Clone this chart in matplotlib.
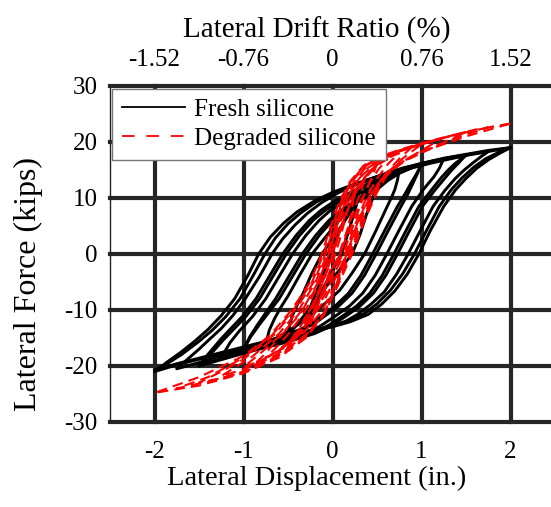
import matplotlib
matplotlib.use("Agg")
import matplotlib.pyplot as plt
from matplotlib.lines import Line2D

plt.rcParams['font.family'] = ['Liberation Serif', 'DejaVu Serif']
plt.rcParams['axes.unicode_minus'] = False

# ---------------- data ----------------
x_ticks = [-2, -1, 0, 1, 2]
drift_labels = ["-1.52", "-0.76", "0", "0.76", "1.52"]
y_ticks = [-30, -20, -10, 0, 10, 20, 30]

# Fresh silicone loops: unloading branch (+A -> -A) followed by reloading branch (-A -> +A)
fresh_disp_1 = [2.0, 1.75, 1.5, 1.25, 1.0, 0.75, 0.5, 0.25, 0.0, -0.2, -0.4, -0.55, -0.7, -0.83, -0.95, -1.1, -1.25, -1.4, -1.55, -1.7, -1.85, -2.0,
                -1.75, -1.5, -1.25, -1.0, -0.75, -0.5, -0.25, 0.0, 0.2, 0.4, 0.55, 0.7, 0.84, 0.97, 1.1, 1.25, 1.38, 1.5, 1.62, 1.75, 1.88, 2.0]
fresh_force_1 = [19.0, 18.5, 17.8, 17.1, 16.2, 15.1, 13.8, 12.5, 11.0, 9.5, 7.5, 5.5, 3.0, 0.0, -3.8, -8.0, -11.0, -13.5, -15.6, -17.5, -19.2, -21.0,
                 -19.8, -18.8, -17.8, -16.8, -15.8, -14.8, -13.9, -13.0, -12.1, -10.8, -9.0, -6.6, -3.6, 0.0, 4.2, 8.5, 11.4, 13.5, 15.3, 16.8, 18.0, 19.0]
fresh_disp_2 = [2.0, 1.75, 1.5, 1.25, 1.0, 0.75, 0.5, 0.25, 0.0, -0.18, -0.36, -0.5, -0.64, -0.76, -0.89, -1.04, -1.2, -1.35, -1.5, -1.7, -1.85, -2.0,
                -1.75, -1.5, -1.25, -1.0, -0.75, -0.5, -0.25, 0.0, 0.18, 0.36, 0.5, 0.65, 0.79, 0.92, 1.06, 1.2, 1.33, 1.45, 1.58, 1.72, 1.86, 2.0]
fresh_force_2 = [19.0, 18.3, 17.6, 16.9, 16.0, 14.9, 13.6, 12.3, 10.8, 9.3, 7.3, 5.4, 2.9, 0.0, -3.8, -8.0, -11.2, -13.6, -15.6, -18.0, -19.5, -20.8,
                 -19.6, -18.6, -17.6, -16.6, -15.6, -14.6, -13.7, -12.8, -11.9, -10.6, -8.9, -6.5, -3.5, 0.0, 4.3, 8.5, 11.4, 13.5, 15.4, 17.0, 18.1, 19.0]
fresh_disp_3 = [1.75, 1.5, 1.3, 1.05, 0.8, 0.6, 0.4, 0.2, 0.05, -0.12, -0.28, -0.42, -0.56, -0.68, -0.82, -0.98, -1.12, -1.25, -1.38, -1.5, -1.63, -1.75,
                -1.5, -1.3, -1.05, -0.8, -0.55, -0.35, -0.15, 0.0, 0.15, 0.28, 0.43, 0.58, 0.72, 0.85, 0.99, 1.13, 1.26, 1.38, 1.48, 1.58, 1.67, 1.75]
fresh_force_3 = [18.3, 17.7, 17.2, 16.3, 15.4, 14.4, 13.3, 12.0, 10.8, 9.2, 7.3, 5.2, 2.7, 0.0, -4.0, -8.0, -11.0, -13.3, -15.2, -17.0, -18.8, -20.5,
                 -19.4, -18.4, -17.4, -16.4, -15.4, -14.5, -13.6, -12.9, -12.0, -10.8, -9.0, -6.8, -3.6, 0.0, 4.3, 8.5, 11.3, 13.5, 15.0, 16.3, 17.4, 18.3]
fresh_disp_4 = [1.5, 1.3, 1.1, 0.9, 0.7, 0.47, 0.24, 0.12, 0.0, -0.13, -0.26, -0.41, -0.56, -0.71, -0.86, -1.01, -1.16, -1.26, -1.35, -1.43, -1.5,
                -1.3, -1.1, -0.85, -0.6, -0.4, -0.2, -0.02, 0.16, 0.31, 0.46, 0.6, 0.73, 0.87, 1.01, 1.14, 1.26, 1.34, 1.42, 1.5]
fresh_force_4 = [17.7, 17.1, 16.4, 15.6, 14.6, 13.1, 11.3, 10.3, 9.2, 7.8, 6.0, 3.3, 0.0, -4.0, -8.0, -11.1, -13.6, -15.3, -17.0, -18.5, -20.0,
                 -19.1, -18.2, -17.1, -16.1, -15.2, -14.2, -12.9, -11.0, -9.3, -7.0, -3.8, 0.0, 4.3, 8.5, 11.2, 13.5, 15.0, 16.3, 17.7]
fresh_disp_5 = [1.5, 1.3, 1.1, 0.9, 0.7, 0.48, 0.27, 0.15, 0.04, -0.09, -0.22, -0.37, -0.52, -0.67, -0.82, -0.97, -1.12, -1.23, -1.33, -1.42, -1.5,
                -1.3, -1.1, -0.85, -0.6, -0.4, -0.2, -0.04, 0.12, 0.27, 0.42, 0.56, 0.69, 0.83, 0.97, 1.1, 1.22, 1.3, 1.38, 1.5]
fresh_force_5 = [17.6, 16.9, 16.2, 15.4, 14.4, 12.9, 11.2, 10.2, 9.0, 7.7, 6.0, 3.3, 0.0, -4.0, -8.0, -11.1, -13.6, -15.4, -17.2, -18.5, -19.8,
                 -18.9, -18.0, -16.9, -15.9, -15.0, -14.0, -12.7, -11.0, -9.3, -7.0, -3.8, 0.0, 4.3, 8.5, 11.2, 13.6, 15.0, 16.2, 17.6]
fresh_disp_6 = [1.25, 1.1, 0.95, 0.8, 0.65, 0.5, 0.35, 0.22, 0.1, -0.03, -0.15, -0.3, -0.45, -0.6, -0.75, -0.9, -1.05, -1.15, -1.25,
                -1.1, -0.9, -0.68, -0.45, -0.28, -0.15, 0.04, 0.19, 0.34, 0.48, 0.61, 0.75, 0.89, 1.02, 1.14, 1.2, 1.25]
fresh_force_6 = [17.0, 16.5, 15.8, 15.0, 14.0, 12.8, 11.2, 10.2, 9.0, 7.7, 6.0, 3.3, 0.0, -4.0, -8.0, -11.2, -13.8, -15.8, -18.5,
                 -17.5, -16.6, -15.6, -14.6, -13.8, -13.0, -11.0, -9.3, -7.0, -3.8, 0.0, 4.3, 8.5, 11.5, 13.8, 15.3, 17.0]
fresh_disp_7 = [1.0, 0.88, 0.75, 0.6, 0.46, 0.33, 0.21, 0.08, -0.04, -0.19, -0.34, -0.49, -0.64, -0.75, -0.85, -0.93, -1.0,
                -0.85, -0.7, -0.52, -0.35, -0.2, -0.08, 0.07, 0.22, 0.36, 0.49, 0.63, 0.77, 0.84, 0.9, 0.95, 1.0]
fresh_force_7 = [16.2, 15.5, 14.6, 13.2, 11.5, 10.3, 9.0, 7.6, 6.0, 3.3, 0.0, -4.0, -8.0, -10.5, -12.8, -14.8, -17.2,
                 -16.4, -15.6, -14.6, -13.6, -12.4, -11.0, -9.3, -7.0, -3.8, 0.0, 4.3, 8.5, 10.5, 12.5, 14.2, 16.2]
fresh_disp_8 = [1.0, 0.88, 0.75, 0.62, 0.5, 0.37, 0.25, 0.12, 0.0, -0.15, -0.3, -0.45, -0.6, -0.72, -0.83, -0.92, -1.0,
                -0.85, -0.7, -0.52, -0.35, -0.22, -0.12, 0.03, 0.18, 0.32, 0.45, 0.59, 0.73, 0.81, 0.88, 0.94, 1.0]
fresh_force_8 = [16.0, 15.3, 14.4, 13.1, 11.5, 10.2, 9.0, 7.6, 6.0, 3.3, 0.0, -4.0, -8.0, -10.5, -12.8, -14.8, -17.0,
                 -16.2, -15.4, -14.4, -13.4, -12.2, -11.0, -9.3, -7.0, -3.8, 0.0, 4.3, 8.5, 10.6, 12.6, 14.2, 16.0]
fresh_disp_9 = [0.75, 0.65, 0.55, 0.45, 0.35, 0.22, 0.1, -0.06, -0.23, -0.37, -0.5, -0.58, -0.65, -0.71, -0.75,
                -0.63, -0.5, -0.35, -0.2, -0.06, 0.08, 0.22, 0.36, 0.48, 0.6, 0.66, 0.7, 0.73, 0.75]
fresh_force_9 = [15.0, 13.9, 12.8, 11.6, 10.3, 8.5, 6.5, 3.4, 0.0, -3.8, -7.5, -9.5, -11.5, -13.6, -16.0,
                 -15.0, -13.8, -12.2, -10.3, -8.5, -6.5, -3.4, 0.0, 3.9, 8.0, 10.0, 11.5, 13.2, 15.0]
fresh_disp_10 = [0.5, 0.43, 0.35, 0.25, 0.15, 0.02, -0.12, -0.23, -0.33, -0.4, -0.45, -0.48, -0.5,
                 -0.42, -0.32, -0.2, -0.08, 0.07, 0.22, 0.31, 0.38, 0.43, 0.47, 0.49, 0.5]
fresh_force_10 = [13.5, 12.3, 10.8, 8.7, 6.2, 3.1, 0.0, -3.4, -7.0, -9.2, -11.0, -12.6, -14.5,
                  -13.0, -11.0, -8.6, -6.0, -3.0, 0.0, 3.5, 7.0, 9.0, 10.8, 12.1, 13.5]
fresh_disp_11 = [0.3, 0.18, 0.05, -0.02, -0.15, -0.25, -0.3,
                 -0.18, -0.02, 0.1, 0.2, 0.27, 0.3]
fresh_force_11 = [11.5, 7.5, 3.0, 0.0, -5.5, -9.5, -12.5,
                  -8.5, -3.5, 0.0, 5.0, 8.8, 11.5]

# Degraded silicone loops
degr_disp_1 = [2.0, 1.6, 1.3, 1.0, 0.75, 0.5, 0.35, 0.2, 0.08, -0.02, -0.12, -0.25, -0.46, -0.7, -1.0, -1.5, -2.0,
               -1.5, -1.0, -0.6, -0.3, -0.1, 0.05, 0.22, 0.36, 0.5, 0.6, 0.75, 1.0, 1.5, 2.0]
degr_force_1 = [23.3, 22.2, 21.0, 19.8, 18.6, 17.2, 15.8, 13.0, 9.5, 5.0, 0.0, -5.0, -10.0, -14.5, -18.2, -22.0, -24.8,
                -23.5, -21.3, -18.5, -15.0, -11.0, -6.0, 0.0, 6.0, 11.0, 13.8, 16.2, 18.2, 21.0, 23.3]
degr_disp_2 = [1.75, 1.3, 1.0, 0.75, 0.5, 0.35, 0.2, 0.1, 0.0, -0.1, -0.23, -0.44, -0.68, -1.0, -1.4, -1.75,
               -1.4, -1.0, -0.6, -0.3, -0.1, 0.04, 0.2, 0.34, 0.48, 0.6, 0.75, 1.0, 1.4, 1.75]
degr_force_2 = [22.6, 21.0, 19.7, 18.5, 17.1, 15.6, 12.8, 9.5, 5.0, 0.0, -5.0, -10.0, -14.5, -18.5, -22.0, -24.0,
                -22.8, -21.0, -18.2, -14.8, -10.8, -6.0, 0.0, 6.0, 11.0, 14.0, 16.3, 18.3, 20.8, 22.6]
degr_disp_3 = [1.5, 1.2, 0.9, 0.6, 0.38, 0.22, 0.11, 0.02, -0.08, -0.21, -0.42, -0.66, -1.0, -1.25, -1.5,
               -1.2, -0.9, -0.6, -0.3, -0.1, 0.04, 0.19, 0.33, 0.47, 0.6, 0.8, 1.1, 1.5]
degr_force_3 = [21.8, 20.5, 19.1, 17.6, 15.8, 13.0, 9.5, 5.0, 0.0, -5.0, -10.0, -14.5, -18.8, -21.0, -23.0,
                -22.0, -20.5, -18.0, -14.6, -10.6, -6.0, 0.0, 6.0, 11.0, 14.0, 16.5, 18.8, 21.8]
degr_disp_4 = [1.25, 1.0, 0.75, 0.5, 0.36, 0.23, 0.12, 0.04, -0.06, -0.19, -0.38, -0.6, -0.9, -1.25,
               -1.0, -0.7, -0.45, -0.25, -0.08, 0.04, 0.17, 0.31, 0.45, 0.6, 0.8, 1.0, 1.25]
degr_force_4 = [20.8, 19.6, 18.3, 16.7, 15.2, 12.6, 9.3, 5.0, 0.0, -5.0, -10.0, -14.2, -18.3, -21.8,
                -20.6, -18.6, -16.2, -13.8, -10.2, -5.5, 0.0, 6.0, 10.8, 14.0, 16.6, 18.5, 20.8]
degr_disp_5 = [1.0, 0.8, 0.6, 0.4, 0.25, 0.14, 0.05, -0.04, -0.16, -0.34, -0.55, -0.8, -1.0,
               -0.8, -0.55, -0.32, -0.12, 0.03, 0.16, 0.29, 0.42, 0.58, 0.8, 1.0]
degr_force_5 = [19.6, 18.6, 17.3, 15.4, 12.5, 9.2, 5.0, 0.0, -5.0, -10.0, -14.0, -17.6, -20.2,
                -19.0, -16.8, -14.0, -10.2, -5.5, 0.0, 6.0, 10.5, 14.0, 17.2, 19.6]
degr_disp_6 = [0.75, 0.6, 0.45, 0.3, 0.16, 0.06, -0.02, -0.14, -0.3, -0.48, -0.62, -0.75,
               -0.6, -0.42, -0.22, -0.06, 0.05, 0.14, 0.26, 0.38, 0.5, 0.63, 0.75]
degr_force_6 = [18.0, 17.0, 15.4, 12.5, 8.8, 4.5, 0.0, -5.0, -10.0, -14.0, -16.5, -18.5,
                -17.2, -14.8, -11.2, -6.5, -2.5, 0.0, 5.5, 10.0, 13.5, 16.2, 18.0]
degr_disp_7 = [0.5, 0.38, 0.26, 0.15, 0.06, 0.0, -0.1, -0.24, -0.38, -0.5,
               -0.36, -0.22, -0.08, 0.04, 0.12, 0.22, 0.32, 0.42, 0.5]
degr_force_7 = [16.0, 14.2, 11.0, 7.2, 3.2, 0.0, -4.5, -9.5, -13.5, -16.5,
                -14.2, -10.8, -6.2, -2.2, 0.0, 4.5, 9.0, 13.0, 16.0]
degr_disp_8 = [0.25, 0.16, 0.08, 0.03, -0.06, -0.16, -0.25,
               -0.14, -0.02, 0.09, 0.16, 0.22, 0.25]
degr_force_8 = [11.5, 7.2, 2.5, 0.0, -4.5, -9.0, -12.5,
                -7.8, -3.0, 0.0, 3.8, 8.0, 11.5]
degr_disp_9 = [0.9, 0.7, 0.5, 0.33, 0.2, 0.1, 0.02, -0.08, -0.2, -0.38, -0.6, -0.78, -0.9,
               -0.7, -0.48, -0.27, -0.09, 0.05, 0.17, 0.3, 0.44, 0.6, 0.75, 0.9]
degr_force_9 = [19.2, 18.0, 16.4, 14.0, 11.0, 7.5, 3.5, -1.5, -6.5, -11.0, -15.0, -18.2, -20.0,
                -18.2, -15.6, -12.4, -8.2, -3.8, 0.5, 6.2, 10.8, 14.4, 17.0, 19.2]
degr_disp_10 = [0.62, 0.5, 0.37, 0.24, 0.12, 0.04, -0.05, -0.17, -0.32, -0.48, -0.62,
                -0.5, -0.34, -0.17, -0.03, 0.07, 0.18, 0.3, 0.42, 0.52, 0.62]
degr_force_10 = [17.0, 15.8, 13.6, 10.2, 6.0, 2.0, -2.5, -7.5, -12.0, -15.6, -17.5,
                 -16.0, -13.0, -9.0, -4.5, -0.5, 4.0, 8.8, 12.8, 15.2, 17.0]
degr_disp_11 = [0.38, 0.28, 0.18, 0.09, 0.02, -0.07, -0.18, -0.3, -0.38,
                -0.26, -0.13, -0.02, 0.08, 0.17, 0.27, 0.38]
degr_force_11 = [14.0, 11.6, 8.2, 4.2, 0.8, -3.5, -8.2, -12.2, -14.5,
                 -11.8, -7.8, -3.8, 0.3, 4.5, 9.0, 14.0]

fresh_loops = [(fresh_disp_1, fresh_force_1), (fresh_disp_2, fresh_force_2),
               (fresh_disp_3, fresh_force_3), (fresh_disp_4, fresh_force_4),
               (fresh_disp_5, fresh_force_5), (fresh_disp_6, fresh_force_6),
               (fresh_disp_7, fresh_force_7), (fresh_disp_8, fresh_force_8),
               (fresh_disp_9, fresh_force_9), (fresh_disp_10, fresh_force_10),
               (fresh_disp_11, fresh_force_11)]
degr_loops = [(degr_disp_1, degr_force_1), (degr_disp_2, degr_force_2),
              (degr_disp_3, degr_force_3), (degr_disp_4, degr_force_4),
              (degr_disp_5, degr_force_5), (degr_disp_6, degr_force_6),
              (degr_disp_7, degr_force_7), (degr_disp_8, degr_force_8),
              (degr_disp_9, degr_force_9), (degr_disp_10, degr_force_10),
              (degr_disp_11, degr_force_11)]

# ---------------- figure ----------------
fig = plt.figure(figsize=(5.51, 5.07), dpi=100)
ax = fig.add_axes([110 / 551, 85 / 507, 445 / 551, 336 / 507])

grid_color = '#262626'
for d, f in fresh_loops:
    ax.plot(d, f, color='black', lw=2.1, solid_joinstyle='round', zorder=3)
for d, f in degr_loops:
    ax.plot(d, f, color='red', lw=1.5, linestyle=(0, (5, 3)), zorder=4)

ax.set_xlim(-2.5, 2.5)
ax.set_ylim(-30, 30)
ax.set_xticks(x_ticks)
ax.set_yticks(y_ticks)
ax.grid(True, color=grid_color, lw=3.0, zorder=1)
ax.set_axisbelow(True)
for ln in ax.get_ygridlines() + ax.get_xgridlines():
    ln.set_clip_on(False)

ax.tick_params(length=0, labelsize=18)
ax.tick_params(axis='y', pad=9)
ax.tick_params(axis='x', pad=14)
for side in ['right', 'top', 'bottom']:
    ax.spines[side].set_visible(False)
ax.spines['left'].set_linewidth(1.0)
ax.spines['left'].set_color('#222222')

ax.set_xlabel('Lateral Displacement (in.)', fontsize=20.5)
ax.xaxis.set_label_coords(0.465, -0.13)
ax.set_ylabel('Lateral Force (kips)', fontsize=23)
ax.yaxis.set_label_coords(-0.15, 0.41)

sec = ax.secondary_xaxis('top')
sec.set_xticks(x_ticks, labels=drift_labels)
sec.tick_params(length=0, labelsize=18, pad=11)
sec.spines['top'].set_visible(False)
sec.set_xlabel('Lateral Drift Ratio (%)', fontsize=21, labelpad=8)
sec.xaxis.label.set_x(0.465)

handles = [Line2D([], [], color='black', lw=1.3),
           Line2D([], [], color='red', lw=1.3, linestyle=(0, (7, 6.5)))]
leg = ax.legend(handles, ['Fresh silicone', 'Degraded silicone'], loc='upper left',
                bbox_to_anchor=(0.0, 1.0), borderaxespad=0.1, fontsize=18,
                fancybox=False, framealpha=1.0, edgecolor='#777777',
                handlelength=2.5, handletextpad=0.35, borderpad=0.4, labelspacing=0.25)
leg.get_frame().set_linewidth(1.0)
leg.set_zorder(10)

fig.savefig('out.png', dpi=100)
